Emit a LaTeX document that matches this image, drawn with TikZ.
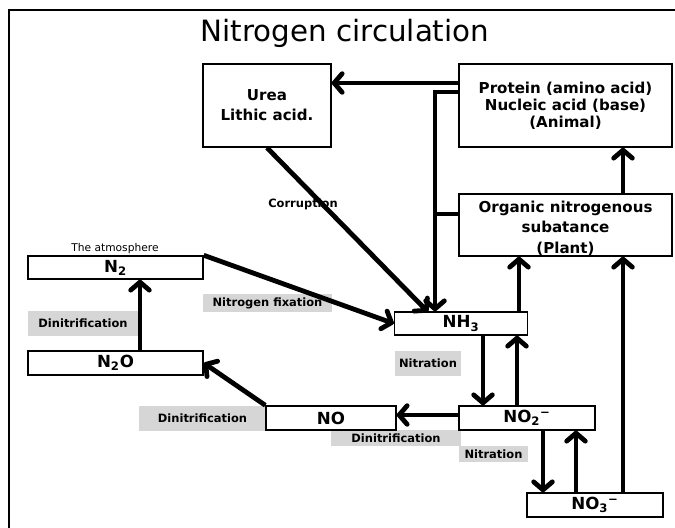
\documentclass[tikz,border=0pt]{standalone}
\usepackage{fontspec}
\setmainfont{DejaVu Sans}
\usetikzlibrary{arrows.meta}
\tikzset{
  box/.style={draw,line width=1.1pt,fill=white,inner sep=0pt,align=center,
    font=\bfseries\fontsize{11.3}{15}\selectfont},
  chem/.style={box,font=\bfseries\fontsize{12.5}{14}\selectfont},
  lab/.style={fill=black!16,inner sep=0pt,font=\bfseries\fontsize{8.6}{10}\selectfont},
  conn/.style={line width=3.6pt},
  arr/.style={conn,-{Straight Barb[length=6pt,width=14pt,round]}},
}
\begin{document}
\begin{tikzpicture}[x=0.75pt,y=-0.75pt]
\useasboundingbox (0,0) rectangle (675,528);
% frame
\draw[line width=1.1pt] (9,528) -- (9,10) -- (675,10);
\node[font=\fontsize{22}{24}\selectfont] (title) at (345,33) {Nitrogen circulation};

% gray labels
\node[lab,minimum width=96.75pt,minimum height=13.5pt] (lfix) at (267.5,303) {Nitrogen fixation};
\node[lab,minimum width=82.5pt,minimum height=18.75pt] (ldn1) at (83,323.5) {Dinitrification};
\node[lab,minimum width=49.5pt,minimum height=18.75pt] (lnit1) at (428,363.5) {Nitration};
\node[lab,minimum width=95.25pt,minimum height=18.75pt] (ldn2) at (202.5,418.5) {Dinitrification};
\node[lab,minimum width=97.5pt,minimum height=12pt] (ldn3) at (396,438) {Dinitrification};
\node[lab,minimum width=51.75pt,minimum height=12pt] (lnit2) at (493.5,454) {Nitration};
\node[font=\bfseries\fontsize{8.6}{10}\selectfont] (lcor) at (303,204) {Corruption};
\node[font=\fontsize{8}{10}\selectfont] (latm) at (115,248.5) {The atmosphere};

% boxes
\node[box,minimum width=96pt,minimum height=62.25pt] (urea) at (267,105.5) {Urea\\Lithic acid.};
\node[box,minimum width=159.75pt,minimum height=62.25pt,font=\bfseries\fontsize{11.3}{12.75}\selectfont] (prot) at (565.5,105.5) {Protein (amino acid)\\Nucleic acid (base)\\(Animal)};
\node[box,minimum width=159.75pt,minimum height=46.5pt] (org) at (565.5,225) {};
\node[align=center,inner sep=0pt,font=\bfseries\fontsize{11.3}{15.4}\selectfont] (orgtxt) at (565.5,228) {Organic nitrogenous\\subatance\\(Plant)};
\node[chem,minimum width=131.25pt,minimum height=17.25pt] (n2) at (115.5,267.5) {N\textsubscript{2}};
\node[chem,minimum width=131.25pt,minimum height=18pt] (n2o) at (115.5,363) {N\textsubscript{2}O};
\node[chem,minimum width=99.75pt,minimum height=17.25pt] (nh3) at (461,323.5) {NH\textsubscript{3}};
\node[chem,minimum width=97.5pt,minimum height=18pt] (no) at (331,418) {NO};
\node[chem,minimum width=102pt,minimum height=18pt] (no2) at (527,418) {NO\textsubscript{2}\textsuperscript{−}};
\node[chem,minimum width=102pt,minimum height=18pt] (no3) at (595,505) {NO\textsubscript{3}\textsuperscript{−}};

% helper coordinates
\coordinate (y83) at (0,83);
\coordinate (y214) at (0,214);
\coordinate (y415) at (0,415);
\coordinate (c1) at (435,92);
\coordinate (t1) at (428,312);
\coordinate (x140) at (140,0);
\coordinate (x483) at (483,0);
\coordinate (x517) at (517,0);
\coordinate (x519) at (519,0);
\coordinate (x543) at (543,0);
\coordinate (x576) at (576,0);
\coordinate (x623) at (623,0);

% connectors
\draw[arr] (prot.west |- y83) -- (urea.east |- y83);
\draw[arr] (prot.west |- c1) -- (c1) -- (nh3.north -| c1);
\draw[conn] (org.west |- y214) -- (c1 |- y214);
\draw[arr] (urea.south) -- (t1);
\draw[arr] (n2.north east) -- (nh3.west);
\draw[arr] (n2o.north -| x140) -- (n2.south -| x140);
\draw[arr] (nh3.south -| x483) -- (no2.north -| x483);
\draw[arr] (no2.north -| x517) -- (nh3.south -| x517);
\draw[arr] (nh3.north -| x519) -- (org.south -| x519);
\draw[arr] (no2.west |- y415) -- (no.east |- y415);
\draw[arr] (no.north west) -- (n2o.east);
\draw[arr] (no2.south -| x543) -- (no3.north -| x543);
\draw[arr] (no3.north -| x576) -- (no2.south -| x576);
\draw[arr] (no3.north -| x623) -- (org.south -| x623);
\draw[arr] (org.north -| x623) -- (prot.south -| x623);
\end{tikzpicture}
\end{document}
